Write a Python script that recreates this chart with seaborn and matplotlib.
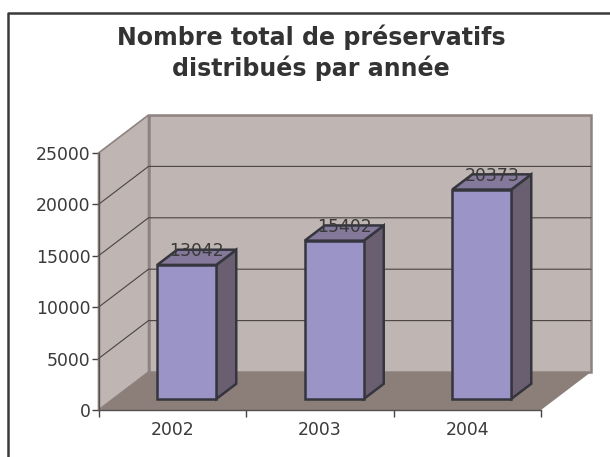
import numpy as np
import pandas as pd
import seaborn as sns
import matplotlib.pyplot as plt
from matplotlib.patches import Polygon

years = ['2002', '2003', '2004']
totals = [13042, 15402, 20373]
y_ticks = [0, 5000, 10000, 15000, 20000, 25000]
title = 'Nombre total de préservatifs\ndistribués par année'

W, H = 610, 457
# front plane of the fake 3d box, in pixels
left, right, top, bottom = 98.5, 541, 153, 410
text_col = '#3a3a3a'
edge_col = '#35353d'
wall_col = '#bfb5b2'
floor_col = '#8c7f7a'
front_col = '#9b94c6'
side_col = '#6a5f70'
roof_col = '#84799b'

sns.set_style('white')
plt.rcParams['font.family'] = ['DejaVu Sans']

fig = plt.figure(figsize=(W / 100, H / 100), dpi=100)
ax = fig.add_axes([left / W, 1 - bottom / H, (right - left) / W, (bottom - top) / H])
ax.patch.set_alpha(0)

df = pd.DataFrame({'year': years, 'total': totals})
sns.barplot(data=df, x='year', y='total', color=front_col, width=0.4, saturation=1,
            edgecolor=edge_col, linewidth=1.8, ax=ax, zorder=6, clip_on=False)
ax.set_xlim(-0.5, 2.5)
ax.set_ylim(0, 25000)

# depth of the box in data units (50px right, 38px up)
DX = 50 / ((right - left) / 3)
DY = 38 / (bottom - top) * 25000
x0, x1 = -0.5, 2.5
ymax = 25000


def poly(pts, fc, ec='none', lw=0, z=1):
    ax.add_patch(Polygon(pts, closed=True, fc=fc, ec=ec, lw=lw, zorder=z, clip_on=False, joinstyle='miter'))


# walls and floor
poly([(x0, 0), (x0, ymax), (x0 + DX, ymax + DY), (x0 + DX, DY)], wall_col, '#8e8380', 1.2)
poly([(x0 + DX, DY), (x0 + DX, ymax + DY), (x1 + DX, ymax + DY), (x1 + DX, DY)], wall_col, '#8e8380', 1.8)
poly([(x0, 0), (x0 + DX, DY), (x1 + DX, DY), (x1, 0)], floor_col, z=2)

# gridlines on left and back wall
for v in y_ticks[1:-1]:
    ax.plot([x0, x0 + DX, x1 + DX], [v, v + DY, v + DY], color='#4a4444', lw=0.8, zorder=3, clip_on=False)

# bars stand a bit inside the box, then get side and top faces
d0, d1 = 0.29, 0.69
for patch, val in zip(ax.patches[:len(totals)], totals):
    xl = patch.get_x() + d0 * DX
    yb = d0 * DY
    w = patch.get_width()
    patch.set_x(xl)
    patch.set_y(yb)
    sx, sy = (d1 - d0) * DX, (d1 - d0) * DY
    poly([(xl + w, yb), (xl + w, yb + val), (xl + w + sx, yb + val + sy), (xl + w + sx, yb + sy)],
         side_col, edge_col, 1.8, 4)
    poly([(xl, yb + val), (xl + w, yb + val), (xl + w + sx, yb + val + sy), (xl + sx, yb + val + sy)],
         roof_col, edge_col, 1.8, 5)
    ax.text(xl + w / 2 + sx / 2, yb + val + sy / 2 - 280, str(val), ha='center', va='bottom',
            fontsize=12.4, color=text_col, zorder=8, clip_on=False)

ax.set_xlabel('')
ax.set_ylabel('')
ax.set_yticks(y_ticks)
ax.set_xticks(np.arange(len(years)))
ax.set_xticklabels(years)
ax.set_xticks(np.arange(len(years) + 1) - 0.5, minor=True)
ax.tick_params(axis='x', which='major', length=0, pad=8, labelsize=12.4, labelcolor=text_col)
ax.tick_params(axis='x', which='minor', length=5, width=1, color='#444444', bottom=True)
ax.tick_params(axis='y', length=5, width=1, color='#444444', left=True, pad=0.8, labelsize=12.4, labelcolor=text_col)
for s in ['top', 'right']:
    ax.spines[s].set_visible(False)
for s in ['left', 'bottom']:
    ax.spines[s].set_color('#555050')
    ax.spines[s].set_linewidth(1)
    ax.spines[s].set_zorder(7)

fig.text(311 / W, 1 - 52.5 / H, title, ha='center', va='center', fontsize=17.1, fontweight='bold',
         color='#333333', linespacing=1.28)

# chart frame, cropped at the bottom and on the right
fig.add_artist(plt.Line2D([8 / W, 8 / W, 1], [0, 1 - 12.5 / H, 1 - 12.5 / H], color='#3a3a3a', lw=1.8,
                          transform=fig.transFigure))

fig.savefig('out.png', dpi=100)
